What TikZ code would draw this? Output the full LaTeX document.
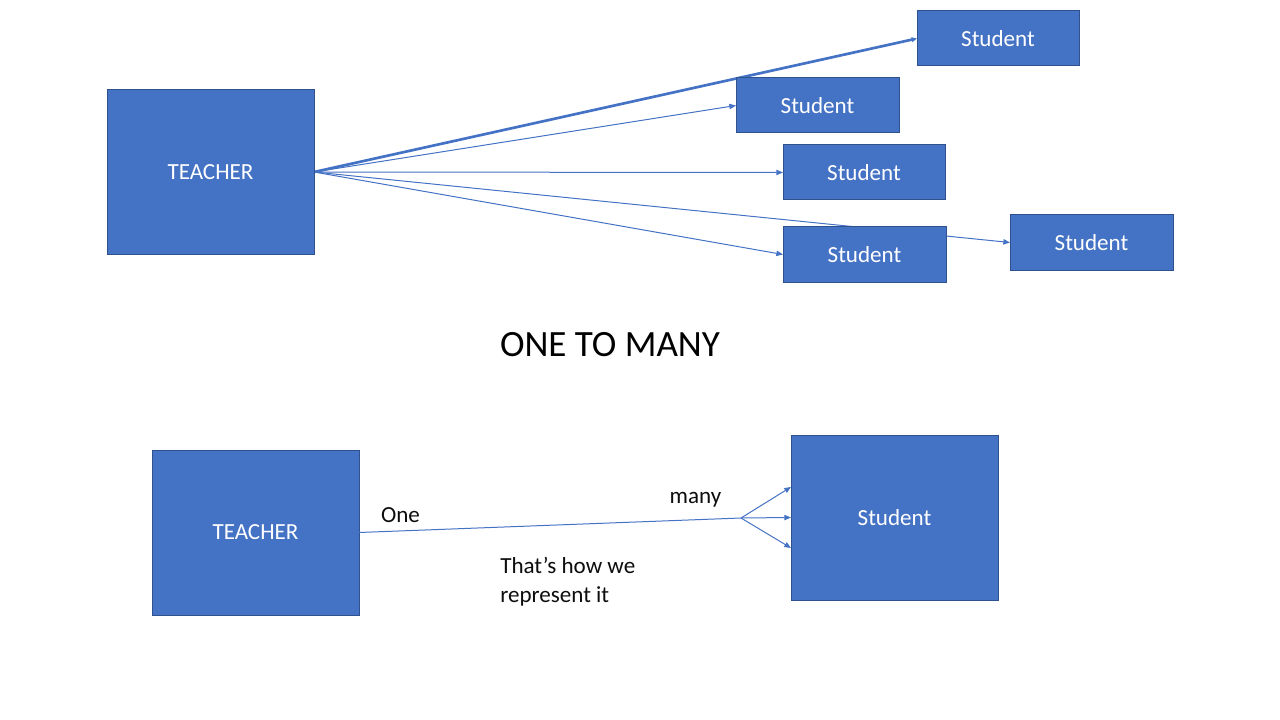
\documentclass[tikz,border=0pt]{standalone}
\usepackage{fontspec}
\setmainfont{Carlito}
\usetikzlibrary{arrows.meta,backgrounds,calc}
\definecolor{boxfill}{HTML}{4472C4}
\definecolor{boxline}{HTML}{2F528F}
\definecolor{txt}{HTML}{0D0D0D}
\begin{document}
\begin{tikzpicture}[x=0.75pt,y=-0.75pt,
  box/.style={draw=boxline,line width=0.75pt,fill=boxfill,text=white,
    inner sep=0pt,outer sep=0pt,font=\fontsize{17.3}{20}\selectfont},
  conn/.style={draw=boxfill,line width=0.75pt,-{Triangle[length=5pt,width=4pt]}},
  thickconn/.style={draw=boxfill,line width=2pt,-{Triangle[length=4pt,width=3.5pt]}},
  plain/.style={draw=boxfill,line width=0.75pt},
  lbl/.style={text=txt,font=\fontsize{17.3}{20}\selectfont,inner sep=0pt}]
\useasboundingbox (0,0) rectangle (1280,720);
% top part
\node[box,minimum width=155.25pt,minimum height=123pt] (teacher) at (210.5,172) {TEACHER};
\node[box,minimum width=121.5pt,minimum height=41.25pt] (s1) at (998,38.5) {Student};
\node[box,minimum width=122.25pt,minimum height=41.25pt] (s2) at (817.5,105.5) {Student};
\node[box,minimum width=121.5pt,minimum height=41.25pt] (s3) at (864,172.5) {Student};
\node[box,minimum width=122.25pt,minimum height=41.25pt] (s4) at (864.5,254.5) {Student};
\node[box,minimum width=122.25pt,minimum height=41.25pt] (s5) at (1091.5,242.5) {Student};
\begin{scope}[on background layer]
\draw[thickconn] (teacher.east) -- (s1.west);
\draw[conn] (teacher.east) -- (s2.west);
\draw[conn] (teacher.east) -- (s3.west);
\draw[conn] (teacher.east) -- (s4.west);
\draw[conn] (teacher.east) -- (s5.west);
\end{scope}
\node[text=black,font=\fontsize{27.8}{32}\selectfont,inner sep=0pt] (title) at (610,345) {ONE TO MANY};
% bottom part
\node[box,minimum width=155.25pt,minimum height=123.75pt] (teacher2) at (255.5,532.5) {TEACHER};
\node[box,minimum width=155.25pt,minimum height=123.75pt] (stud2) at (894.5,517.5) {Student};
\coordinate (fork) at (741,518);
\draw[plain] (teacher2.east) -- (fork);
\draw[conn] (fork) -- ($(stud2.west)+(0,-30.5)$);
\draw[conn] (fork) -- (stud2.west);
\draw[conn] (fork) -- ($(stud2.west)+(0,30.5)$);
\node[lbl] (one) at (400.5,515) {One};
\node[lbl] (many) at (695.5,500) {many};
\node[lbl,anchor=west,align=left,font=\fontsize{17.3}{21.75}\selectfont] (note) at (500,582) {That’s how we\\represent it};
\end{tikzpicture}
\end{document}
